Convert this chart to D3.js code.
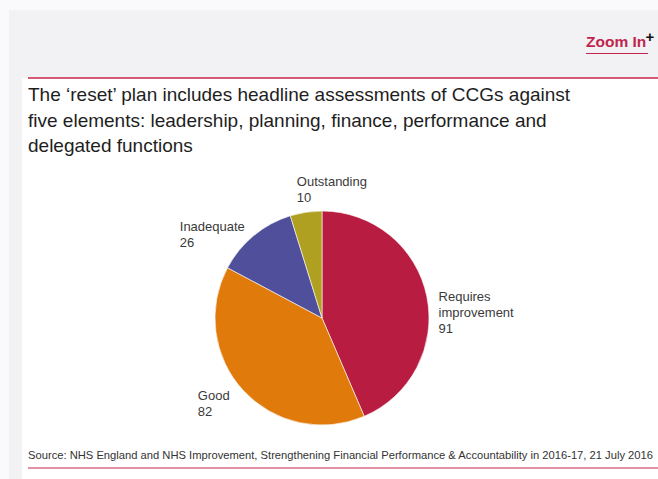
<!DOCTYPE html>
<html>
<head>
<meta charset="utf-8">
<script src="https://cdn.jsdelivr.net/npm/d3@7"></script>
<style>
  html, body { margin: 0; padding: 0; background: #fafafc; }
  svg { display: block; font-family: "Liberation Sans", Arial, Helvetica, sans-serif; }
</style>
</head>
<body>
<svg id="chart" width="658" height="479"></svg>
<script>
// CCG headline assessment counts
const categories = ["Requires improvement", "Good", "Inadequate", "Outstanding"];
const values = [91, 82, 26, 10];
const colors = ["#b81c40", "#e07a0b", "#4f4f9b", "#b0a022"];
// label text lines shown beside each slice
const labelLines = [["Requires", "improvement", "91"], ["Good", "82"], ["Inadequate", "26"], ["Outstanding", "10"]];

const titleLines = [
  "The \u2018reset\u2019 plan includes headline assessments of CCGs against",
  "five elements: leadership, planning, finance, performance and",
  "delegated functions"
];
const sourceText = "Source: NHS England and NHS Improvement, Strengthening Financial Performance & Accountability in 2016-17, 21 July 2016";

const W = 658, H = 479;
const svg = d3.select("#chart");
const red = "#c8264b";

// page panels
svg.append("rect").attr("x", 9).attr("y", 10).attr("width", W - 9).attr("height", H - 10).attr("fill", "#f2f2f5");
svg.append("rect").attr("x", 22).attr("y", 78).attr("width", W - 22).attr("height", H - 78).attr("fill", "#ffffff");

// header link
const zoom = svg.append("g");
zoom.append("text").attr("x", 586).attr("y", 47)
  .attr("font-size", 15.5).attr("font-weight", "bold").attr("fill", "#c0264c")
  .text("Zoom In");
zoom.append("line").attr("x1", 586).attr("x2", 648).attr("y1", 53.5).attr("y2", 53.5)
  .attr("stroke", "#c0264c").attr("stroke-width", 1.2);
zoom.append("text").attr("x", 645.5).attr("y", 42)
  .attr("font-size", 15).attr("font-weight", "bold").attr("fill", "#111")
  .text("+");

// rules
svg.append("line").attr("x1", 28).attr("x2", W).attr("y1", 78).attr("y2", 78)
  .attr("stroke", red).attr("stroke-width", 1.5);
svg.append("line").attr("x1", 28).attr("x2", W).attr("y1", 468).attr("y2", 468)
  .attr("stroke", red).attr("stroke-width", 1.2);

// title
svg.append("g").selectAll("text").data(titleLines).join("text")
  .attr("x", 28).attr("y", (d, i) => 101 + i * 25.5)
  .attr("font-size", 19).attr("fill", "#1e1e1e")
  .text(d => d);

// source
svg.append("text").attr("x", 28).attr("y", 459)
  .attr("font-size", 11.2).attr("fill", "#333")
  .text(sourceText);

// pie
const cx = 322, cy = 318, R = 107;
const pie = d3.pie().sort(null).value(d => d);
const arcs = pie(values);
const arc = d3.arc().innerRadius(0).outerRadius(R);
const g = svg.append("g").attr("transform", `translate(${cx},${cy})`);
g.selectAll("path").data(arcs).join("path")
  .attr("d", arc)
  .attr("fill", (d, i) => colors[i])
  .attr("stroke", "#fff").attr("stroke-width", 0.6);

// labels: anchored at a point along each slice's mid-angle, then nudged
const labelRadius = [118, 128, 118, 128];
const labelNudge = [[1, 7], [-30, -5], [-67, 4], [-6, -5]];
arcs.forEach((a, i) => {
  const mid = (a.startAngle + a.endAngle) / 2;
  const px = Math.sin(mid) * labelRadius[i] + labelNudge[i][0];
  const py = -Math.cos(mid) * labelRadius[i] + labelNudge[i][1];
  const t = g.append("text").attr("font-size", 13).attr("fill", "#3a3a3a");
  labelLines[i].forEach((line, j) => {
    t.append("tspan").attr("x", px).attr("y", py + j * 16).text(line);
  });
});
</script>
</body>
</html>
